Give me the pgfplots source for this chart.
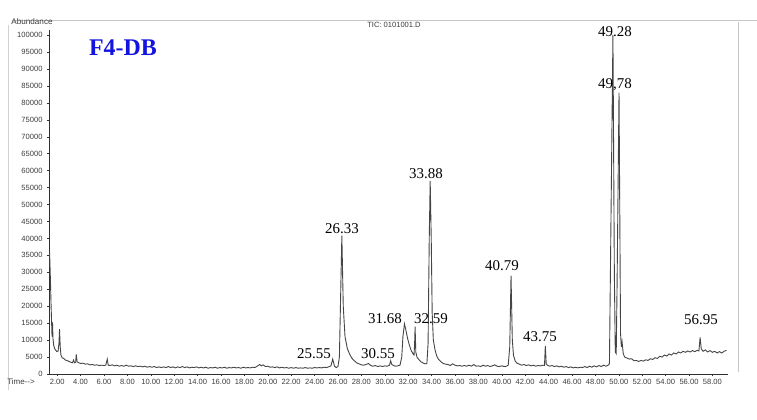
\documentclass[border=0pt]{standalone}
\usepackage{pgfplots}
\pgfplotsset{compat=1.18}
\usepackage{fontspec}
\setmainfont{Liberation Serif}
\newfontfamily\arial{Liberation Sans}
\definecolor{curve}{HTML}{454545}
\definecolor{axc}{HTML}{303030}
\definecolor{txt}{HTML}{3C3C3C}
\definecolor{fblue}{HTML}{1414E0}
\begin{document}
\begin{tikzpicture}
\begin{axis}[
  at={(0,0)}, anchor=south west,
  scale only axis, width=678.6bp, height=344bp,
  xmin=1.3, xmax=59.3, ymin=0, ymax=101500,
  axis x line=bottom, axis y line=left,
  axis line style={-, axc, line width=1bp},
  xtick={2,4,...,58},
  ytick={0,5000,...,100000},
  tick align=outside, major tick length=2bp,
  tick style={axc, line width=0.5bp},
  ticklabel style={font=\arial\fontsize{7.6}{8}\selectfont, text=txt},
  xticklabel style={/pgf/number format/.cd, fixed, fixed zerofill, precision=2, assume math mode=true},
  yticklabel style={xshift=-1bp, /pgf/number format/.cd, fixed, 1000 sep={}, assume math mode=true},
  scaled ticks=false,
  clip=false,
]
\addplot[curve, line width=0.9bp] coordinates {
(1.35,36000)(1.42,28000)(1.48,20000)(1.52,15500)(1.56,11000)(1.60,15200)(1.64,10500)(1.70,8500)(1.78,7500)(1.88,7000)(1.98,6600)(2.08,6800)(2.15,9000)(2.20,13200)(2.26,8000)(2.32,5600)(2.42,4800)(2.55,4600)(2.70,4100)(2.85,4000)(3.00,3700)(3.15,3500)(3.30,3300)(3.40,4100)(3.48,3300)(3.58,3500)(3.63,5800)(3.70,3600)(3.85,3300)(4.00,3100)(4.20,3200)(4.40,2900)(4.60,3000)(4.80,2700)(5.00,2800)(5.20,2600)(5.40,2700)(5.60,2500)(5.80,2600)(6.00,2500)(6.15,2600)(6.28,4400)(6.36,2600)(6.50,2500)(6.70,2700)(6.90,2400)(7.10,2600)(7.30,2300)(7.50,2500)(7.70,2300)(7.90,2600)(8.10,2300)(8.30,2400)(8.50,2200)(8.70,2400)(8.90,2200)
(9.1,2300)(9.3,2100)(9.5,2300)(9.7,2000)(9.9,2200)(10.1,2000)(10.3,2200)(10.5,1900)(10.7,2100)(10.9,1900)(11.1,2100)(11.3,1900)(11.5,2200)(11.7,1900)(11.9,2100)(12.1,1800)(12.3,2100)(12.5,1900)(12.7,2200)(12.9,1900)(13.1,2100)(13.3,1800)(13.5,2000)(13.7,1900)(13.9,2100)(14.1,1800)(14.3,2000)(14.5,1800)(14.7,2000)(14.9,1700)(15.1,1900)(15.3,1800)(15.5,2000)(15.7,1700)(15.9,1900)(16.1,1800)(16.3,2000)(16.5,1700)(16.7,1900)(16.9,1800)(17.1,2000)(17.3,1800)(17.5,1900)(17.7,1700)(17.9,2000)(18.1,1800)(18.3,1900)(18.5,1800)(18.7,2000)(18.9,1900)(19.1,2300)(19.3,2800)(19.45,2400)(19.6,2700)(19.8,2200)(20.0,2300)(20.2,2000)(20.4,2100)(20.6,1900)(20.8,2100)(21.0,1800)(21.2,2000)(21.4,1800)(21.6,1900)(21.8,1700)(22.0,1900)(22.2,1700)(22.4,1900)(22.6,1700)(22.8,1800)(23.0,1700)(23.2,1900)(23.4,1700)(23.6,1800)(23.8,1700)(24.0,1900)(24.2,1800)(24.4,1900)(24.6,1800)(24.8,2000)(25.0,1900)(25.2,2100)(25.4,2400)(25.55,4400)(25.7,2300)(25.85,1900)(26.0,2200)(26.12,5000)(26.22,22000)(26.33,40800)(26.45,20000)(26.6,11000)(26.8,7500)(27.0,5800)(27.2,4600)(27.4,3900)(27.6,3300)(27.8,3000)(28.0,2700)(28.2,2600)(28.4,2800)(28.6,3100)(28.8,2500)(29.0,2300)(29.2,2500)(29.4,2200)(29.6,2400)(29.8,2200)(30.0,2400)(30.2,2300)(30.4,2600)(30.5,3900)(30.6,2800)(30.75,2500)(30.9,2300)(31.1,2400)(31.3,2600)(31.45,5000)(31.55,11000)(31.68,14800)(31.8,13000)(31.95,10500)(32.1,8500)(32.25,7000)(32.4,6000)(32.5,5600)(32.55,9000)(32.59,14000)(32.65,6500)(32.75,5000)(32.9,4300)(33.1,3600)(33.3,3200)(33.45,3000)(33.6,3100)(33.7,9000)(33.8,40000)(33.88,57000)(33.97,40000)(34.05,18000)(34.15,10000)(34.3,7000)(34.45,5200)(34.6,4300)(34.8,3600)(35.0,3100)(35.2,2900)(35.4,2800)(35.6,2500)(35.8,3000)(36.0,2600)(36.2,2400)(36.4,2500)(36.6,2300)(36.8,2500)(37.0,2300)(37.2,2600)(37.4,2300)(37.6,2800)(37.8,2300)(38.0,2400)(38.2,2200)(38.4,2600)(38.6,2300)(38.8,2500)(39.0,2200)(39.2,2400)(39.4,2700)(39.6,2300)(39.8,2200)(40.0,2400)(40.2,2200)(40.4,2300)(40.55,2600)(40.68,8000)(40.79,29000)(40.9,10000)(41.0,5500)(41.15,3800)(41.3,3200)(41.5,2900)(41.7,2600)(41.9,2800)(42.1,2500)(42.3,2700)(42.5,2400)(42.7,2600)(42.9,2300)(43.1,2500)(43.3,2400)(43.5,2600)(43.65,2500)(43.72,8200)(43.8,2900)(43.95,2500)(44.1,2300)(44.3,2500)(44.5,2200)(44.7,2400)(44.9,2100)(45.1,2300)(45.3,2000)(45.5,2200)(45.7,1900)(45.9,2100)(46.1,1800)(46.3,2000)(46.5,1800)(46.7,2000)(46.9,1900)(47.1,2200)(47.3,1900)(47.5,2300)(47.7,2000)(47.9,2400)(48.1,2100)(48.3,2500)(48.5,2200)(48.7,2600)(48.9,2300)(49.05,2500)(49.2,3000)(49.3,35000)(49.5,100000)(49.62,30000)(49.7,6500)(49.78,6000)(49.85,25000)(50.02,83000)(50.15,12000)(50.22,8000)(50.28,9500)(50.38,6000)(50.5,5000)(50.7,4700)(50.9,4400)(51.1,4500)(51.3,3900)(51.5,4000)(51.7,3700)(51.9,4000)(52.1,3800)(52.3,4200)(52.5,4000)(52.7,4500)(52.9,4300)(53.1,4800)(53.3,4600)(53.5,5200)(53.7,5000)(53.9,5600)(54.1,5300)(54.3,5900)(54.5,5600)(54.7,6200)(54.9,5900)(55.1,6500)(55.3,6200)(55.5,6700)(55.7,6400)(55.9,6800)(56.1,6500)(56.3,6900)(56.5,6600)(56.7,7000)(56.85,6800)(56.95,10800)(57.05,7400)(57.2,6700)(57.4,7100)(57.6,6500)(57.8,6900)(58.0,6400)(58.2,6700)(58.4,6200)(58.6,6600)(58.8,6200)(59.0,6700)(59.2,7000)
};
\end{axis}
\begin{scope}[shift={(-49bp,374bp)}, x=1bp, y=-1bp]
  % scan frame
  \draw[gray!45, line width=0.6bp] (12,20) -- (757,20);
  \draw[gray!45, line width=0.6bp] (738,22) -- (738,372);
  \draw[gray!35, line width=0.6bp] (8,25) -- (8,390);
  % header texts
  \node[font=\arial\fontsize{8.2}{9}\selectfont, text=txt] at (32,22) {Abundance};
  \node[font=\arial\fontsize{7.6}{8}\selectfont, text=txt] at (394,25) {TIC: 0101001.D};
  \node[font=\arial\fontsize{8}{9}\selectfont, text=txt] at (21,382) {Time-->};
  \node[font=\bfseries\fontsize{24}{26}\selectfont, text=fblue] at (123,48) {F4-DB};
  % peak labels
  \begin{scope}[every node/.style={font=\fontsize{15}{16}\selectfont, text=black, inner sep=0pt}]
    \node at (615,32) {49.28};
    \node at (615,85) {49,78};
    \node at (426,174) {33.88};
    \node at (342,229) {26.33};
    \node at (502,266) {40.79};
    \node at (385,319) {31.68};
    \node at (431,319) {32.59};
    \node at (314,354) {25.55};
    \node at (378,354) {30.55};
    \node at (540,337) {43.75};
    \node at (701,320) {56.95};
  \end{scope}
\end{scope}
\pgfresetboundingbox
\path[use as bounding box] (-49bp,-46bp) rectangle (708bp,374bp);
\end{tikzpicture}
\end{document}
